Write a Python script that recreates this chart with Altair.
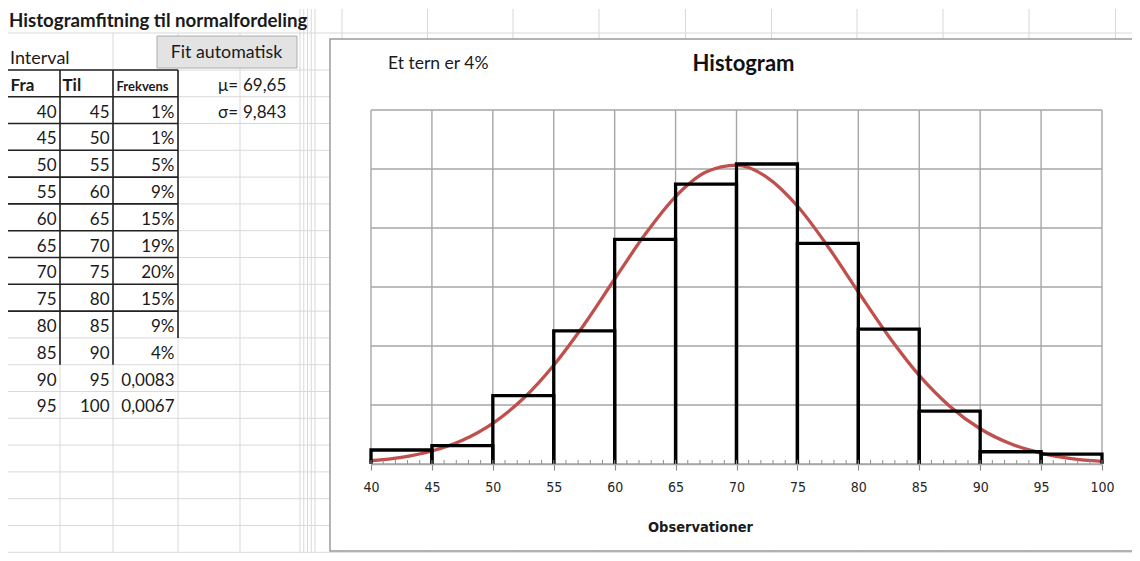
import altair as alt
import pandas as pd

# ---------------- data ----------------
titel = "Histogramfitning til normalfordeling"
knap_tekst = "Fit automatisk"
fra = [40, 45, 50, 55, 60, 65, 70, 75, 80, 85, 90, 95]
til = [45, 50, 55, 60, 65, 70, 75, 80, 85, 90, 95, 100]
frekvens = [0.0095, 0.0124, 0.0463, 0.0902, 0.1523, 0.1898, 0.2034, 0.1496, 0.0915, 0.0359, 0.0083, 0.0067]
frekvens_tekst = ["1%", "1%", "5%", "9%", "15%", "19%", "20%", "15%", "9%", "4%", "0,0083", "0,0067"]
param_navne = ["\u03bc=", "\u03c3="]
param_vaerdier = ["69,65", "9,843"]

kurve_x = [40, 42.5, 45, 47.5, 50, 52.5, 55, 57.5, 60, 62.5, 65, 67.5, 70,
           72.5, 75, 77.5, 80, 82.5, 85, 87.5, 90, 92.5, 95, 97.5, 100]
kurve_y = [0.0022, 0.0045, 0.0088, 0.0161, 0.0276, 0.0444, 0.0670, 0.0946, 0.1254,
           0.1557, 0.1813, 0.1979, 0.2026, 0.1944, 0.1749, 0.1475, 0.1166, 0.0865,
           0.0601, 0.0392, 0.0239, 0.0137, 0.0074, 0.0037, 0.0018]

x_ticks = [40, 45, 50, 55, 60, 65, 70, 75, 80, 85, 90, 95, 100]
y_ticks = [0, 0.04, 0.08, 0.12, 0.16, 0.20, 0.24]
minor_ticks = list(range(40, 101))
diagram_titel = "Histogram"
note_tekst = "Et tern er 4%"
akse_titel = "Observationer"

# ---------------- layout (styles / scales) ----------------
X0, Y0 = 371, 110  # plot origin in page pixels
col_px = [8, 60, 113, 178, 240, 300, 315, 342, 427.5, 513, 599, 685.5, 771.5, 857, 943, 1029, 1115.5, 1201]
row_px = [9, 33, 70] + [96.7 + 26.8 * k for k in range(19)]

FONT = "Lato"
AXFONT = "DejaVu Sans Condensed, Lato"
TXT = "#1a1a1a"


def sx():
    return alt.Scale(domain=list(range(len(col_px))), range=[p - X0 for p in col_px], zero=False, nice=False)


def sy():
    return alt.Scale(domain=list(range(len(row_px))), range=[p - Y0 for p in row_px], zero=False, nice=False)


# spreadsheet gridlines (structure in cell indices)
light_h = pd.DataFrame({"c": [0] * 20, "c2": [17] * 20, "r": list(range(1, 21))})
v_cols = [1, 2, 3, 4, 5, 5.25, 5.5, 5.75, 6] + list(range(7, 17))
v_start = [2, 1, 1, 1] + [0] * (len(v_cols) - 4)
light_v = pd.DataFrame({"c": v_cols, "r": v_start, "r2": [21] * len(v_cols)})
dark_h = pd.DataFrame({"c": [0] * 10, "c2": [3] * 10, "r": list(range(2, 12))})
dark_v = pd.DataFrame({"c": [1, 2, 3], "r": [2, 2, 2], "r2": [13, 13, 12]})

g_h = alt.Chart(light_h).mark_rule(color="#d9d9d9", strokeWidth=1).encode(
    x=alt.X("c:Q", scale=sx(), axis=None), x2="c2:Q", y=alt.Y("r:Q", scale=sy(), axis=None))
g_v = alt.Chart(light_v).mark_rule(color="#d9d9d9", strokeWidth=1).encode(
    x=alt.X("c:Q", scale=sx(), axis=None), y=alt.Y("r:Q", scale=sy(), axis=None), y2="r2:Q")
d_h = alt.Chart(dark_h).mark_rule(color="#222222", strokeWidth=1.6).encode(
    x=alt.X("c:Q", scale=sx(), axis=None), x2="c2:Q", y=alt.Y("r:Q", scale=sy(), axis=None))
d_v = alt.Chart(dark_v).mark_rule(color="#222222", strokeWidth=1.6).encode(
    x=alt.X("c:Q", scale=sx(), axis=None), y=alt.Y("r:Q", scale=sy(), axis=None), y2="r2:Q")

n = len(fra)
left_txt = pd.DataFrame({"t": ["Interval"], "c": [0], "r": [2]})
param_txt = pd.DataFrame({"t": param_vaerdier, "c": [4, 4], "r": [3, 4]})
num_txt = pd.DataFrame({
    "t": [str(v) for v in fra] + [str(v) for v in til] + frekvens_tekst,
    "c": [1] * n + [2] * n + [3] * n,
    "r": list(range(4, 4 + n)) * 3,
})
pname_txt = pd.DataFrame({"t": param_navne, "c": [4, 4], "r": [3, 4]})
title_txt = pd.DataFrame({"t": [titel], "c": [0], "r": [1]})
bold_txt = pd.DataFrame({"t": ["Fra", "Til"], "c": [0, 1], "r": [3, 3]})
small_txt = pd.DataFrame({"t": ["Frekvens"], "c": [2], "r": [3]})


def txt(df, **kw):
    return alt.Chart(df).mark_text(font=FONT, color=TXT, baseline="alphabetic", dy=-6, **kw).encode(
        x=alt.X("c:Q", scale=sx(), axis=None), y=alt.Y("r:Q", scale=sy(), axis=None), text="t:N")


t_left = txt(left_txt, align="left", dx=2, fontSize=18)
t_param = txt(param_txt, align="left", dx=3, fontSize=17)
t_num = txt(num_txt, align="right", dx=-3.5, fontSize=17)
t_pname = txt(pname_txt, align="right", dx=-2, fontSize=17)
t_title = txt(title_txt, align="left", dx=1, fontSize=18.7, fontWeight="bold")
t_bold = txt(bold_txt, align="left", dx=2.5, fontSize=17, fontWeight="bold")
t_small = txt(small_txt, align="left", dx=3.5, fontSize=13, fontWeight="bold")

one = pd.DataFrame({"t": [knap_tekst]})
button = alt.Chart(one).mark_rect(fill="#e3e3e3", stroke="#adadad", strokeWidth=1).encode(
    x=alt.value(157 - X0), x2=alt.value(297 - X0), y=alt.value(36 - Y0), y2=alt.value(68 - Y0))
button_t = alt.Chart(one).mark_text(font=FONT, fontSize=17.8, color=TXT, align="center", baseline="alphabetic").encode(
    x=alt.value(226.5 - X0), y=alt.value(58.3 - Y0), text="t:N")

frame = alt.Chart(pd.DataFrame({"a": [0]})).mark_rect(fill="white", stroke="#9a9a9a", strokeWidth=1.5).encode(
    x=alt.value(330 - X0), x2=alt.value(820), y=alt.value(39 - Y0), y2=alt.value(551 - Y0))

# ---------------- histogram ----------------
def hx():
    return alt.Scale(domain=[40, 100], nice=False, zero=False)


def hy():
    return alt.Scale(domain=[0, 0.24], nice=False)


x_axis = alt.Axis(values=x_ticks, grid=False, title=akse_titel, labelFont=AXFONT,
                  labelFontSize=14, labelColor="#262626", labelPadding=10, tickSize=6,
                  tickColor="#8c8c8c", tickWidth=1.2, domainColor="#a6a6a6", domainWidth=1.4,
                  labelFlush=False, labelOverlap=False, titleFont=AXFONT,
                  titleFontSize=14.5, titleFontWeight="bold", titleColor="#1a1a1a",
                  titleX=700 - X0, titleY=63, titleBaseline="middle", titleAlign="center",
                  titleAnchor="start", zindex=1, orient="bottom")

grid_v = alt.Chart(pd.DataFrame({"v": x_ticks})).mark_rule(color="#a6a6a6", strokeWidth=1.4).encode(
    x=alt.X("v:Q", scale=hx(), axis=x_axis))
grid_h = alt.Chart(pd.DataFrame({"v": y_ticks})).mark_rule(color="#a6a6a6", strokeWidth=1.4).encode(
    y=alt.Y("v:Q", scale=hy(), axis=None))

curve = alt.Chart(pd.DataFrame({"x": kurve_x, "y": kurve_y})).mark_line(
    color="#c0504d", strokeWidth=3.3, interpolate="monotone", strokeCap="round").encode(
    x=alt.X("x:Q", scale=hx(), axis=None), y=alt.Y("y:Q", scale=hy(), axis=None))

rows = []
for i in range(n):
    rows += [
        {"bin": i, "seq": 0, "x": fra[i], "y": 0},
        {"bin": i, "seq": 1, "x": fra[i], "y": frekvens[i]},
        {"bin": i, "seq": 2, "x": til[i], "y": frekvens[i]},
        {"bin": i, "seq": 3, "x": til[i], "y": 0},
    ]
bars = alt.Chart(pd.DataFrame(rows)).mark_line(color="black", strokeWidth=3.3, strokeJoin="miter").encode(
    x=alt.X("x:Q", scale=hx(), axis=None), y=alt.Y("y:Q", scale=hy(), axis=None),
    detail="bin:N", order=alt.Order("seq:Q"))

minor = alt.Chart(pd.DataFrame({"v": minor_ticks})).mark_rule(color="#8c8c8c", strokeWidth=1).encode(
    x=alt.X("v:Q", scale=hx(), axis=None), y=alt.value(354), y2=alt.value(350))

ann = pd.DataFrame({"t": [note_tekst]})
note = alt.Chart(ann).mark_text(font=FONT, fontSize=17.5, color=TXT, align="left", baseline="alphabetic").encode(
    x=alt.value(388 - X0), y=alt.value(69.3 - Y0), text="t:N")
ttl = alt.Chart(pd.DataFrame({"t": [diagram_titel]})).mark_text(
    font=FONT, fontSize=22, fontWeight="bold", color="#111111", align="center", baseline="alphabetic").encode(
    x=alt.value(743.5 - X0), y=alt.value(70.7 - Y0), text="t:N")

chart = alt.layer(
    g_h, g_v, d_h, d_v, t_left, t_param, t_num, t_pname, t_title, t_bold, t_small,
    button, button_t, frame, grid_v, grid_h, curve, bars, minor, note, ttl
).resolve_scale(
    x="independent", y="independent"
).properties(
    width=731, height=354,
    autosize=alt.AutoSizeParams(type="none"),
    padding={"left": X0 - 8, "top": Y0 - 8, "right": 30, "bottom": 89},
    background="white",
).configure_view(strokeWidth=0)

chart.save("out.html", embed_options={"renderer": "svg", "actions": False})
